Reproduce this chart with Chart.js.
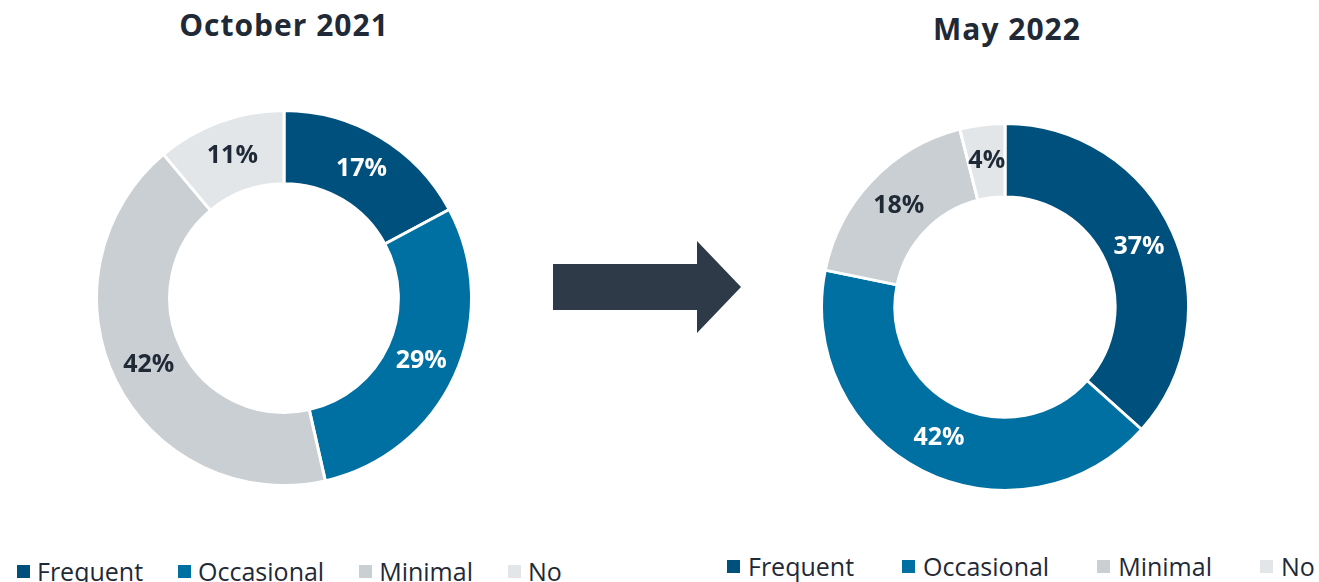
<!DOCTYPE html>
<html lang="en">
<head>
  <meta charset="UTF-8" />
  <title>Frequency of use</title>
  <script src="https://cdn.jsdelivr.net/npm/chart.js"></script>
  <style>
    body { margin: 0; background: #fff; font-family: "Open Sans", sans-serif; color: #1f2a36; }
    #page { position: relative; width: 1319px; height: 582px; overflow: hidden; }
    .title { position: absolute; font-weight: bold; font-size: 30px; letter-spacing: 1px; text-align: center; white-space: nowrap; }
    .pie { position: absolute; }
    .legend { position: absolute; display: flex; align-items: center; font-size: 25px; white-space: nowrap; }
    .legend span.box { display: inline-block; }
    #arrow { position: absolute; left: 553px; top: 241px; }
  </style>
</head>
<body>
  <div id="page">
    <div class="title" style="left:134px; top:4px; width:300px;">October 2021</div>
    <div class="title" style="left:857px; top:8px; width:300px;">May 2022</div>
    <div class="pie" style="left:95px; top:109px; width:378px; height:378px;"><canvas id="octChart"></canvas></div>
    <div class="pie" style="left:820px; top:122px; width:370px; height:370px;"><canvas id="mayChart"></canvas></div>
    <svg id="arrow" width="190" height="94">
      <polygon points="0,23 144,23 144,0 188,46 144,92 144,69 0,69" fill="#2e3a47" />
    </svg>
    <div class="legend" id="octLegend" style="left:17px; top:554px;"></div>
    <div class="legend" id="mayLegend" style="left:727px; top:549px;"></div>
  </div>

  <script>
    const categories = ['Frequent', 'Occasional', 'Minimal', 'No'];
    const oct2021 = [17, 29, 42, 11];
    const may2022 = [37, 42, 18, 4];

    const sliceColors = ['#00507e', '#0070a2', '#c9cfd3', '#e3e6e9'];
    const labelColors = ['#ffffff', '#ffffff', '#1f2a36', '#1f2a36'];

    // percentage labels drawn at each slice centre
    const sliceLabels = {
      id: 'sliceLabels',
      afterDatasetsDraw(chart) {
        const ctx = chart.ctx;
        const meta = chart.getDatasetMeta(0);
        const values = chart.data.datasets[0].data;
        ctx.save();
        ctx.font = 'bold 25px "Open Sans", sans-serif';
        ctx.textAlign = 'center';
        ctx.textBaseline = 'middle';
        meta.data.forEach((arc, i) => {
          const pos = arc.tooltipPosition();
          ctx.fillStyle = labelColors[i];
          ctx.fillText(values[i] + '%', pos.x, pos.y);
        });
        ctx.restore();
      }
    };

    function makeDoughnut(id, values, cutout) {
      const ctx = document.getElementById(id).getContext('2d');
      return new Chart(ctx, {
        type: 'doughnut',
        data: {
          labels: categories,
          datasets: [{
            data: values,
            backgroundColor: sliceColors,
            borderColor: '#ffffff',
            borderWidth: 3
          }]
        },
        options: {
          responsive: true,
          maintainAspectRatio: false,
          animation: false,
          cutout: cutout,
          layout: { padding: 0 },
          plugins: {
            legend: { display: false },
            tooltip: { enabled: false }
          }
        },
        plugins: [sliceLabels]
      });
    }

    function makeLegend(id, boxGap, itemGap, boxSize) {
      const el = document.getElementById(id);
      categories.forEach((name, i) => {
        const item = document.createElement('div');
        item.style.display = 'flex';
        item.style.alignItems = 'center';
        if (i > 0) item.style.marginLeft = itemGap + 'px';
        const box = document.createElement('span');
        box.className = 'box';
        box.style.background = sliceColors[i];
        box.style.width = boxSize + 'px';
        box.style.height = boxSize + 'px';
        box.style.marginRight = boxGap + 'px';
        const txt = document.createElement('span');
        txt.textContent = name;
        item.appendChild(box);
        item.appendChild(txt);
        el.appendChild(item);
      });
    }

    makeDoughnut('octChart', oct2021, '61%');
    makeDoughnut('mayChart', may2022, '60%');
    makeLegend('octLegend', 7, 35, 13);
    makeLegend('mayLegend', 8, 48, 13);
  </script>
</body>
</html>
